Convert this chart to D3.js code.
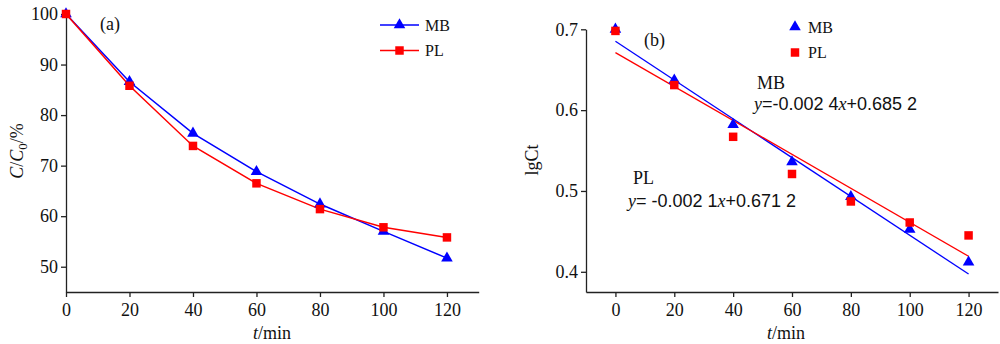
<!DOCTYPE html>
<html>
<head>
<meta charset="utf-8">
<script src="https://cdn.jsdelivr.net/npm/d3@7"></script>
<style>
  body { margin: 0; background: #fff; }
  svg { display: block; font-family: "Liberation Serif", "Times New Roman", serif; fill: #111; }
  .axis path, .axis line { stroke: #222; stroke-width: 1.3; }
  .axis text { font-size: 18px; fill: #111; font-family: "Liberation Serif", serif; }
  .eq { font-family: "Liberation Sans", Arial, sans-serif; }
  .it { font-family: "Liberation Serif", serif; font-style: italic; }
</style>
</head>
<body>
<svg id="chart"></svg>
<script>
// time points (min)
let times = [0, 20, 40, 60, 80, 100, 120];

// (a) removal ratio C/C0 (%)
let mbRatio = [100, 86.6, 76.4, 68.8, 62.4, 57.0, 51.7];
let plRatio = [100, 85.8, 73.9, 66.5, 61.4, 57.8, 55.8];

// (b) lgCt
let mbLog = [0.700, 0.637, 0.582, 0.536, 0.493, 0.4525, 0.412];
let plLog = [0.698, 0.631, 0.567, 0.521, 0.487, 0.461, 0.445];

// linear fits: [slope, intercept]
let mbFit = [-0.0024, 0.6852];
let plFit = [-0.0021, 0.6712];

let xTicks = [0, 20, 40, 60, 80, 100, 120];
let yTicksA = [50, 60, 70, 80, 90, 100];
let yTicksB = [0.4, 0.5, 0.6, 0.7];

let width = 1000;
let height = 344;
let blue = "#0000ff";
let red = "#ff0000";

let svg = d3.select("#chart").attr("width", width).attr("height", height);

let triangle = d3.symbol().type(d3.symbolTriangle).size(58);
let square = d3.symbol().type(d3.symbolSquare).size(72);

// ---------- panel (a) ----------
let xA = d3.scaleLinear().domain([0, 130]).range([66, 478.7]);
let yA = d3.scaleLinear().domain([45, 100]).range([292, 14]);

let gA = svg.append("g");

gA.append("g")
    .attr("class", "axis")
    .attr("transform", "translate(0," + yA(45) + ")")
    .call(d3.axisBottom(xA).tickValues(xTicks).tickSize(5).tickSizeOuter(0).tickPadding(6));

gA.append("g")
    .attr("class", "axis")
    .attr("transform", "translate(" + xA(0) + ",0)")
    .call(d3.axisLeft(yA).tickValues(yTicksA).tickSize(5).tickSizeOuter(0).tickPadding(3));

let lineA = (vals) => d3.line()
    .x((d, i) => xA(times[i]))
    .y((d) => yA(d))(vals);

gA.append("path").attr("d", lineA(mbRatio)).attr("fill", "none").attr("stroke", blue).attr("stroke-width", 1.5);
gA.append("path").attr("d", lineA(plRatio)).attr("fill", "none").attr("stroke", red).attr("stroke-width", 1.5);

gA.selectAll(".mbA").data(mbRatio).enter().append("path")
    .attr("d", triangle)
    .attr("transform", (d, i) => "translate(" + xA(times[i]) + "," + yA(d) + ")")
    .attr("fill", blue);
gA.selectAll(".plA").data(plRatio).enter().append("path")
    .attr("d", square)
    .attr("transform", (d, i) => "translate(" + xA(times[i]) + "," + yA(d) + ")")
    .attr("fill", red);

gA.append("text").attr("x", 100).attr("y", 30).attr("font-size", 18).text("(a)");

// legend (a)
let legA = [["MB", blue, triangle], ["PL", red, square]];
legA.forEach((item, i) => {
    let y = 25 + i * 25.5;
    gA.append("line").attr("x1", 380).attr("x2", 419).attr("y1", y).attr("y2", y)
        .attr("stroke", item[1]).attr("stroke-width", 1.3);
    gA.append("path").attr("d", item[2]).attr("transform", "translate(399.5," + y + ")").attr("fill", item[1]);
    gA.append("text").attr("x", 425).attr("y", y + 5.5).attr("font-size", 16).text(item[0]);
});

// axis titles (a)
gA.append("text").attr("x", 272).attr("y", 339).attr("text-anchor", "middle").attr("font-size", 18)
    .html('<tspan font-style="italic">t</tspan>/min');

gA.append("text")
    .attr("transform", "translate(23,151) rotate(-90)")
    .attr("text-anchor", "middle").attr("font-size", 18)
    .html('<tspan font-style="italic">C</tspan>/<tspan font-style="italic">C</tspan><tspan font-size="13" dy="4">0</tspan><tspan dy="-4">/%</tspan>');

// ---------- panel (b) ----------
let xB = d3.scaleLinear().domain([-10, 130]).range([586, 998]);
let yB = d3.scaleLinear().domain([0.375, 0.7]).range([292, 29.3]);

let gB = svg.append("g");

gB.append("g")
    .attr("class", "axis")
    .attr("transform", "translate(0," + yB(0.375) + ")")
    .call(d3.axisBottom(xB).tickValues(xTicks).tickSize(5).tickSizeOuter(0).tickPadding(6));

gB.append("g")
    .attr("class", "axis")
    .attr("transform", "translate(" + xB(-10) + ",0)")
    .call(d3.axisLeft(yB).tickValues(yTicksB).tickFormat(d3.format(".1f")).tickSize(5).tickSizeOuter(0).tickPadding(3));

// fitted lines from the equations
[[mbFit, blue], [plFit, red]].forEach((f) => {
    gB.append("line")
        .attr("x1", xB(0)).attr("y1", yB(f[0][1]))
        .attr("x2", xB(120)).attr("y2", yB(f[0][0] * 120 + f[0][1]))
        .attr("stroke", f[1]).attr("stroke-width", 1.3);
});

gB.selectAll(".mbB").data(mbLog).enter().append("path")
    .attr("d", triangle)
    .attr("transform", (d, i) => "translate(" + xB(times[i]) + "," + yB(d) + ")")
    .attr("fill", blue);
gB.selectAll(".plB").data(plLog).enter().append("path")
    .attr("d", square)
    .attr("transform", (d, i) => "translate(" + xB(times[i]) + "," + yB(d) + ")")
    .attr("fill", red);

gB.append("text").attr("x", 644).attr("y", 46).attr("font-size", 18).text("(b)");

// legend (b), markers only
let legB = [["MB", blue, triangle], ["PL", red, square]];
legB.forEach((item, i) => {
    let y = 27 + i * 25.5;
    gB.append("path").attr("d", item[2]).attr("transform", "translate(795," + y + ")").attr("fill", item[1]);
    gB.append("text").attr("x", 808).attr("y", y + 5.5).attr("font-size", 16).text(item[0]);
});

// equation labels
gB.append("text").attr("x", 757).attr("y", 89).attr("font-size", 18).text("MB");
gB.append("text").attr("class", "eq").attr("x", 754).attr("y", 110).attr("font-size", 18)
    .html('<tspan class="it">y</tspan>=-0.002 4<tspan class="it">x</tspan>+0.685 2');
gB.append("text").attr("x", 633).attr("y", 184).attr("font-size", 18).text("PL");
gB.append("text").attr("class", "eq").attr("x", 628).attr("y", 207).attr("font-size", 18)
    .html('<tspan class="it">y</tspan>= -0.002 1<tspan class="it">x</tspan>+0.671 2');

// axis titles (b)
gB.append("text").attr("x", 786).attr("y", 339).attr("text-anchor", "middle").attr("font-size", 18)
    .html('<tspan font-style="italic">t</tspan>/min');
gB.append("text")
    .attr("transform", "translate(538,160) rotate(-90)")
    .attr("text-anchor", "middle").attr("font-size", 18)
    .text("lgCt");
</script>
</body>
</html>
